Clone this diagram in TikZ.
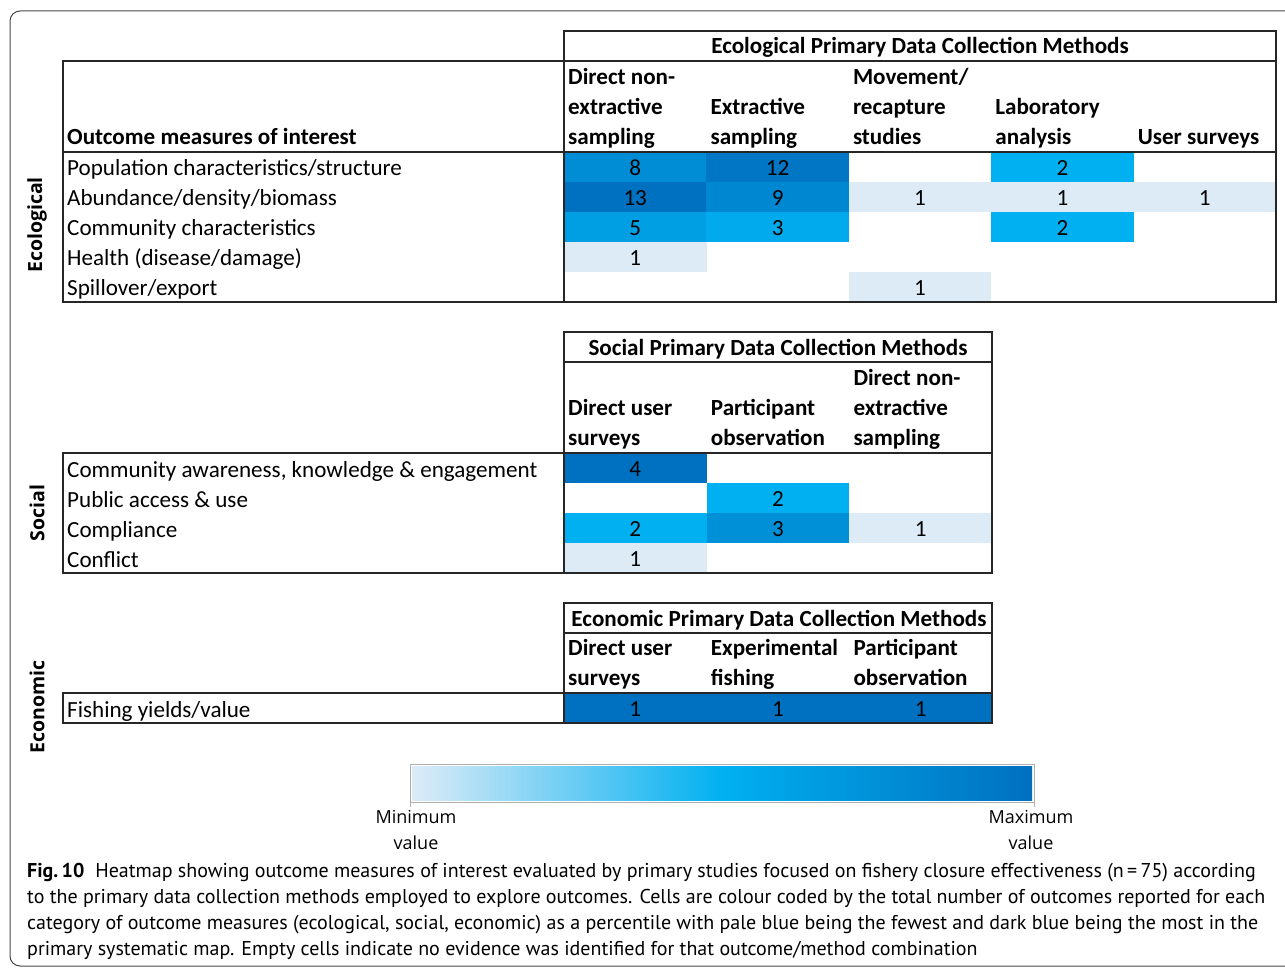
\documentclass[tikz,border=0pt]{standalone}
\usepackage{fontspec}
\setmainfont{Carlito}
\newfontfamily\sidefont{Open Sans}
\newfontfamily\capfont{PT Sans}
\usetikzlibrary{positioning}
% heat scale colours
\definecolor{heatmin}{RGB}{221,235,247}
\definecolor{heatmid}{RGB}{0,176,240}
\definecolor{heatmax}{RGB}{0,112,192}
\definecolor{heatthree}{RGB}{0,170,236}
\definecolor{heatfive}{RGB}{0,159,227}
\definecolor{heateight}{RGB}{0,141,214}
\definecolor{heatnine}{RGB}{0,135,209}
\definecolor{heattwelve}{RGB}{0,118,196}
\definecolor{socthree}{RGB}{0,144,216}
\definecolor{gridline}{RGB}{38,38,38}
\definecolor{framegray}{RGB}{70,70,70}
\definecolor{barborder}{RGB}{175,175,175}
\newcommand{\tabfont}{\fontsize{23.1}{30}\selectfont}
\tikzset{
  cell/.style={minimum width=142.6pt, minimum height=30pt, inner sep=0pt, text height=16.6pt, text depth=0pt, font=\tabfont},
  rowlabel/.style={anchor=base west, inner sep=0pt, font=\tabfont},
  colhead/.style={anchor=south west, inner sep=0pt, align=left, font=\tabfont\bfseries},
  tabtitle/.style={anchor=base, inner sep=0pt, font=\tabfont\bfseries},
  sidelabel/.style={rotate=90, inner sep=0pt, font=\sidefont\bfseries\fontsize{19.5}{22}\selectfont},
  tabline/.style={draw=gridline, line width=1.6pt},
  legendlabel/.style={align=center, inner sep=0pt, font=\sidefont\fontsize{18}{26}\selectfont},
  captext/.style={anchor=north west, inner sep=0pt, align=left, font=\capfont\fontsize{20}{26}\selectfont},
}
\begin{document}
\begin{tikzpicture}[x=1pt,y=1pt,yscale=-1]
\useasboundingbox (0,0) rectangle (1285,968);
\clip (0,0) rectangle (1285,968);

%Shape: Frame
\draw [framegray, line width=1pt, rounded corners=10pt] (10,11) rectangle (1320,966);

% Side labels
\node [sidelabel] (ecolab) at (37,225) {Ecological};
\node [sidelabel] (soclab) at (37,513) {Social};
\node [sidelabel] (econlab) at (37,707) {Economic};

%%%% Ecological table
% Cells
\node [cell, fill=heateight] (ecoPopA) at (635.2,167) {8};
\node [cell, fill=heattwelve] (ecoPopB) at (777.6,167) {12};
\node [cell, fill=heatmid] (ecoPopD) at (1062.4,167) {2};
\node [cell, fill=heatmax] (ecoAbuA) at (635.2,197) {13};
\node [cell, fill=heatnine] (ecoAbuB) at (777.6,197) {9};
\node [cell, fill=heatmin] (ecoAbuC) at (920.0,197) {1};
\node [cell, fill=heatmin] (ecoAbuD) at (1062.4,197) {1};
\node [cell, fill=heatmin] (ecoAbuE) at (1204.8,197) {1};
\node [cell, fill=heatfive] (ecoComA) at (635.2,227) {5};
\node [cell, fill=heatthree] (ecoComB) at (777.6,227) {3};
\node [cell, fill=heatmid] (ecoComD) at (1062.4,227) {2};
\node [cell, fill=heatmin] (ecoHeaA) at (635.2,257) {1};
\node [cell, fill=heatmin] (ecoSpiC) at (920.0,287) {1};

% Lines
\draw [tabline] (564,31) rectangle (1276,61);
\draw [tabline] (63,61) rectangle (1276,302);
\draw [tabline] (63,152) -- (1276,152);
\draw [tabline] (564,61) -- (564,302);

% Text Node
\node [tabtitle] (ecotitle) at (920,54) {Ecological Primary Data Collection Methods};
\node [rowlabel, font=\tabfont\bfseries] (ecohead) at (67,145) {Outcome measures of interest};
\node [colhead] (ecoColA) at (568,154) {Direct non-\\extractive\\sampling\strut};
\node [colhead] (ecoColB) at (710.4,154) {Extractive\\sampling\strut};
\node [colhead] (ecoColC) at (852.8,154) {Movement/\\recapture\\studies\strut};
\node [colhead] (ecoColD) at (995.2,154) {Laboratory\\analysis\strut};
\node [colhead] (ecoColE) at (1137.6,154) {User surveys\strut};
\node [rowlabel] (ecoPop) at (67,176) {Population characteristics/structure};
\node [rowlabel] (ecoAbu) at (67,206) {Abundance/density/biomass};
\node [rowlabel] (ecoCom) at (67,236) {Community characteristics};
\node [rowlabel] (ecoHea) at (67,266) {Health (disease/damage)};
\node [rowlabel] (ecoSpi) at (67,296) {Spillover/export};

%%%% Social table
% Cells
\node [cell, fill=heatmax] (socAwaA) at (635.3,468) {4};
\node [cell, fill=heatmid] (socPubB) at (778.0,498) {2};
\node [cell, fill=heatmid] (socCmpA) at (635.3,528) {2};
\node [cell, fill=socthree] (socCmpB) at (778.0,528) {3};
\node [cell, fill=heatmin] (socCmpC) at (920.7,528) {1};
\node [cell, fill=heatmin] (socConA) at (635.3,558) {1};

% Lines
\draw [tabline] (564,332) rectangle (992,453);
\draw [tabline] (564,362) -- (992,362);
\draw [tabline] (63,453) rectangle (992,573);
\draw [tabline] (564,453) -- (564,573);

% Text Node
\node [tabtitle] (soctitle) at (778,355) {Social Primary Data Collection Methods};
\node [colhead] (socColA) at (568,455) {Direct user\\surveys\strut};
\node [colhead] (socColB) at (710.7,455) {Participant\\observation\strut};
\node [colhead] (socColC) at (853.3,455) {Direct non-\\extractive\\sampling\strut};
\node [rowlabel] (socAwa) at (67,477) {Community awareness, knowledge \& engagement};
\node [rowlabel] (socPub) at (67,507) {Public access \& use};
\node [rowlabel] (socCmp) at (67,537) {Compliance};
\node [rowlabel] (socCon) at (67,567) {Conflict};

%%%% Economic table
% Cells
\node [cell, fill=heatmax] (econFisA) at (635.3,708) {1};
\node [cell, fill=heatmax] (econFisB) at (778.0,708) {1};
\node [cell, fill=heatmax] (econFisC) at (920.7,708) {1};

% Lines
\draw [tabline] (564,603) rectangle (992,693);
\draw [tabline] (564,633) -- (992,633);
\draw [tabline] (63,693) rectangle (992,723);
\draw [tabline] (564,693) -- (564,723);

% Text Node
\node [tabtitle] (econtitle) at (779,626) {Economic Primary Data Collection Methods};
\node [colhead] (econColA) at (568,695) {Direct user\\surveys\strut};
\node [colhead] (econColB) at (710.7,695) {Experimental\\fishing\strut};
\node [colhead] (econColC) at (853.3,695) {Participant\\observation\strut};
\node [rowlabel] (econFis) at (67,717) {Fishing yields/value};

%%%% Colour scale
\shade [left color=heatmin, right color=heatmid] (412,766) rectangle (722.5,800);
\shade [left color=heatmid, right color=heatmax] (722,766) rectangle (1032,800);
\draw [barborder, line width=1pt] (410,764) rectangle (1034,802);
\coordinate (mintick) at (410,807);
\coordinate (maxtick) at (1034,807);
\draw [barborder, line width=1pt] (410,802) -- (mintick);
\draw [barborder, line width=1pt] (1034,802) -- (maxtick);
\node [legendlabel] (minlab) at (416,830) {Minimum\\value};
\node [legendlabel] (maxlab) at (1031,830) {Maximum\\value};

%%%% Caption
\node [captext] (caption) at (27,859) {\strut\textbf{Fig.\,10}\hspace{11pt}Heatmap showing outcome measures of interest evaluated by primary studies focused on fishery closure effectiveness (n\,=\,75) according\\
\strut to the primary data collection methods employed to explore outcomes. Cells are colour coded by the total number of outcomes reported for each\\
\strut category of outcome measures (ecological, social, economic) as a percentile with pale blue being the fewest and dark blue being the most in the\\
\strut primary systematic map. Empty cells indicate no evidence was identified for that outcome/method combination};

\end{tikzpicture}
\end{document}
